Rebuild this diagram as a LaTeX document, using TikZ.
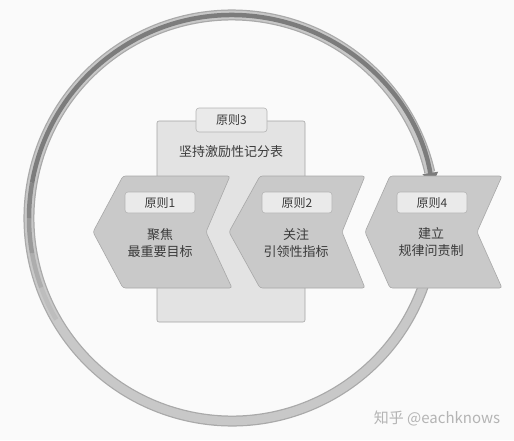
\documentclass[tikz,border=0pt]{standalone}
\usepackage{fontspec}
\setmainfont{Noto Sans CJK SC}
\usetikzlibrary{arrows.meta}
\definecolor{bgc}{HTML}{FAFAFA}
\definecolor{chevfill}{HTML}{C9C9C9}
\definecolor{chevline}{HTML}{A8A8A8}
\definecolor{boxfill}{HTML}{E3E3E3}
\definecolor{boxline}{HTML}{A4A4A4}
\definecolor{tabfill}{HTML}{EAEAEA}
\definecolor{tabline}{HTML}{B4B4B4}
\definecolor{ringedge}{HTML}{A9A9A9}
\definecolor{ringfill}{HTML}{C8C8C8}
\definecolor{ringdark}{HTML}{7C7C7C}
\definecolor{txt}{HTML}{3A3A3A}
\definecolor{wm}{HTML}{B4B4B4}
\tikzset{
  chevron/.style={fill=chevfill, draw=chevline, line width=0.6pt, rounded corners=2.5pt},
  tabbox/.style={fill=tabfill, draw=tabline, line width=0.6pt, rounded corners=3pt,
    minimum width=70pt, minimum height=21pt, inner sep=0pt, text=txt,
    font=\fontsize{12}{12}\selectfont},
  bodytext/.style={align=center, text=txt, inner sep=0pt, font=\fontsize{13}{17}\selectfont},
  ringline/.style={line cap=butt},
}
\begin{document}
\begin{tikzpicture}[x=1pt,y=-1pt]
\useasboundingbox (0,0) rectangle (514,440);
\fill[bgc] (0,0) rectangle (514,440);

% ring (pixel angle p -> canvas angle -p)
\coordinate (ringc) at (232,218);
\draw[ringline, line width=11pt, draw=ringedge] (ringc) ++(-15:203pt) arc[start angle=-15, end angle=-347, radius=203pt];
\draw[ringline, line width=8.5pt, draw=ringfill] (ringc) ++(-14:203pt) arc[start angle=-14, end angle=-348, radius=203pt];
\draw[ringline, line width=4.5pt, draw=ringdark!15!ringfill] (ringc) ++(-150:203pt) arc[start angle=-150, end angle=-160, radius=203pt];
\draw[ringline, line width=4.5pt, draw=ringdark!35!ringfill] (ringc) ++(-160:203pt) arc[start angle=-160, end angle=-170, radius=203pt];
\draw[ringline, line width=4.5pt, draw=ringdark!60!ringfill] (ringc) ++(-170:203pt) arc[start angle=-170, end angle=-180, radius=203pt];
\draw[ringline, line width=4.5pt, draw=ringdark!85!ringfill] (ringc) ++(-180:203pt) arc[start angle=-180, end angle=-190, radius=203pt];
\draw[ringline, line width=4.5pt, draw=ringdark, -{Triangle[length=12pt,width=15pt]}] (ringc) ++(-190:203pt) arc[start angle=-190, end angle=-350.6, radius=203pt];

% principle 3 box
\node (p3box) [fill=boxfill, draw=boxline, line width=0.6pt, rounded corners=2pt,
  minimum width=148pt, minimum height=201pt] at (231,221.5) {};
\node (p3tab) [tabbox, minimum width=71pt, minimum height=24pt] at (231.5,120) {原则3};
\node (p3text) [bodytext] at (231,152) {坚持激励性记分表};

% chevrons
\draw[chevron] (123,176) -- (230,176) -- (206,232) -- (232,288) -- (123,288) -- (93,232) -- cycle;
\draw[chevron] (260,176) -- (365,176) -- (342,232) -- (365,288) -- (260,288) -- (229,232) -- cycle;
\draw[chevron] (390,176) -- (502,176) -- (477,232) -- (502,288) -- (390,288) -- (365,232) -- cycle;

\node (p1tab) [tabbox] at (160,202.5) {原则1};
\node (p2tab) [tabbox] at (297,202.5) {原则2};
\node (p4tab) [tabbox] at (432,202.5) {原则4};

\node (p1text) [bodytext] at (160,243.5) {聚焦\\最重要目标};
\node (p2text) [bodytext] at (296,243.5) {关注\\引领性指标};
\node (p4text) [bodytext] at (431,242.5) {建立\\规律问责制};

% watermark
\node (wmark) [text=wm, inner sep=0pt, font=\fontsize{15}{15}\selectfont] at (437,418) {知乎 @eachknows};
\end{tikzpicture}
\end{document}
